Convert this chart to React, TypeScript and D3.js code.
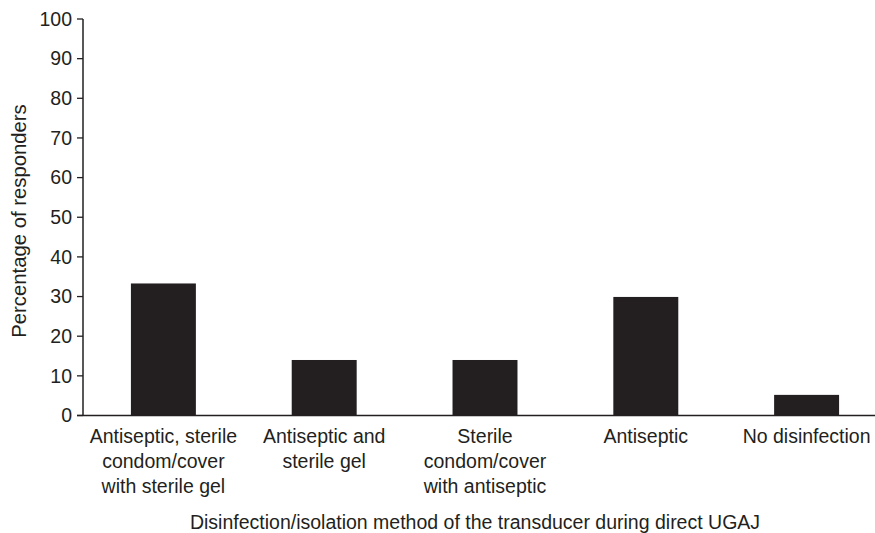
import React from "react";
import * as d3 from "d3";

const categories: string[][] = [
  ["Antiseptic, sterile", "condom/cover", "with sterile gel"],
  ["Antiseptic and", "sterile gel"],
  ["Sterile", "condom/cover", "with antiseptic"],
  ["Antiseptic"],
  ["No disinfection"],
];
const values: number[] = [33.3, 14.0, 14.0, 29.9, 5.2];
const yTicks: number[] = [0, 10, 20, 30, 40, 50, 60, 70, 80, 90, 100];
const yTitle = "Percentage of responders";
const xTitle = "Disinfection/isolation method of the transducer during direct UGAJ";

const W = 875;
const H = 533;
const left = 83;
const top = 19;
const bottom = 415.5;
const right = 887;
const ink = "#231f20";
const font = "'Liberation Sans', Arial, Helvetica, sans-serif";

export default function App() {
  const keys = categories.map((_, i) => String(i));
  const x = d3.scaleBand<string>().domain(keys).range([left, right]).paddingInner(0.596).paddingOuter(0.298);
  const y = d3.scaleLinear().domain([0, 100]).range([bottom, top]);
  return (
    <svg width={W} height={H} style={{ position: "absolute", left: 0, top: 0, background: "#fff" }} fontFamily={font}>
      {values.map((v, i) => (
        <rect key={i} x={x(keys[i])} y={y(v)} width={x.bandwidth()} height={y(0) - y(v)} fill={ink} />
      ))}
      {/* y axis */}
      <line x1={left} x2={left} y1={y(100)} y2={y(0)} stroke={ink} strokeWidth={1.5} />
      {yTicks.map((t) => (
        <g key={t}>
          <line x1={left - 6} x2={left} y1={y(t)} y2={y(t)} stroke={ink} strokeWidth={1.3} />
          <text x={left - 11} y={y(t)} dy="0.35em" textAnchor="end" fontSize={19.5} fill={ink}>
            {t}
          </text>
        </g>
      ))}
      {/* x axis */}
      <line x1={left - 6} x2={W} y1={y(0)} y2={y(0)} stroke={ink} strokeWidth={1.5} />
      {categories.map((lines, i) => (
        <text key={i} textAnchor="middle" fontSize={19.5} fill={ink}>
          {lines.map((l, j) => (
            <tspan key={j} x={(x(keys[i]) as number) + x.bandwidth() / 2} y={443 + j * 25}>
              {l}
            </tspan>
          ))}
        </text>
      ))}
      <text x={475} y={528.5} textAnchor="middle" fontSize={19.5} fill={ink}>
        {xTitle}
      </text>
      <text transform={`translate(26,${221}) rotate(-90)`} textAnchor="middle" fontSize={20.3} fill={ink}>
        {yTitle}
      </text>
    </svg>
  );
}
